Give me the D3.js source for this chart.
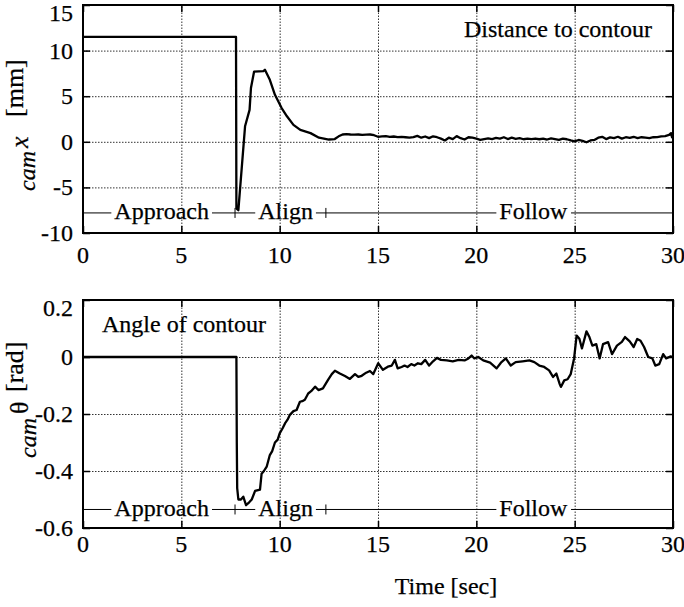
<!doctype html>
<html>
<head>
  <meta charset='utf-8'>
  <style>
    body { margin: 0; background: #fff; }
    text { font-family: 'Liberation Serif', 'Times New Roman', serif; fill: #000; stroke: #000; stroke-width: 0.25px; }
    .grid line { stroke: #333; stroke-width: 1; stroke-dasharray: 1.5,1.5; }
    .grid path, .ticks path { display: none; }
    .ticks line { stroke: #000; stroke-width: 1.5; }
    .ticklabel { font-size: 24px; }
    .curve { fill: none; stroke: #000; stroke-width: 2.3; stroke-linejoin: round; }
  </style>
</head>
<body>
  <svg width='684' height='607'></svg>
  <script src='https://d3js.org/d3.v7.min.js'></script>
  <script>
    // ---- data ----
    var xTicks = [0, 5, 10, 15, 20, 25, 30];
    var yTicksX = [-10, -5, 0, 5, 10, 15];
    var yTicksTheta = [-0.6, -0.4, -0.2, 0, 0.2];

    var phaseNames = ['Approach', 'Align', 'Follow'];
    var phaseMarks = [7.73, 12.35];
    var phaseLabelAt = [4.0, 10.3, 22.9];

    var timeX = [0, 7.78, 7.8, 7.9, 8.24, 8.47, 8.54, 8.7, 9.17, 9.25, 9.5, 9.76,
      10.1, 10.37, 10.7, 11.05, 11.57, 12.0, 12.5, 12.8, 13.0, 13.2, 13.4, 13.6,
      13.8, 14.0, 14.2, 14.4, 14.6, 14.8, 15.0, 15.2, 15.4, 15.6, 15.8, 16.0,
      16.2, 16.4, 16.6, 16.8, 17.0, 17.2, 17.4, 17.6, 17.8, 18.0, 18.2, 18.4,
      18.6, 18.8, 19.0, 19.2, 19.4, 19.6, 19.8, 20.0, 20.2, 20.4, 20.6, 20.8,
      21.0, 21.2, 21.4, 21.6, 21.8, 22.0, 22.2, 22.4, 22.6, 22.8, 23.0, 23.2,
      23.4, 23.6, 23.8, 24.0, 24.2, 24.4, 24.6, 24.8, 25.0, 25.2, 25.4, 25.6,
      25.8, 26.0, 26.2, 26.4, 26.6, 26.8, 27.0, 27.2, 27.4, 27.6, 27.8, 28.0,
      28.2, 28.4, 28.6, 28.8, 29.0, 29.2, 29.4, 29.6, 29.8, 29.9, 29.95, 30.0];
    var camX = [11.5, 11.5, -7.3, -7.5, 1.7, 3.5, 5.9, 7.7, 7.75, 7.9, 6.8, 5.15,
      3.7, 2.8, 1.86, 1.3, 0.95, 0.45, 0.25, 0.3, 0.6, 0.8, 0.85, 0.8,
      0.78, 0.8, 0.75, 0.78, 0.8, 0.72, 0.55, 0.6, 0.62, 0.55, 0.58, 0.52,
      0.55, 0.5, 0.45, 0.52, 0.65, 0.45, 0.58, 0.4, 0.6, 0.5, 0.35, 0.15,
      0.45, 0.3, 0.62, 0.4, 0.25, 0.5, 0.45, 0.35, 0.22, 0.3, 0.38, 0.3,
      0.42, 0.35, 0.5, 0.3, 0.45, 0.32, 0.4, 0.28, 0.35, 0.3, 0.36, 0.28,
      0.35, 0.25, 0.38, 0.3, 0.22, 0.35, 0.28, 0.15, 0.05, 0.2, 0.1, -0.05,
      0.15, 0.2, 0.45, 0.55, 0.3, 0.48, 0.4, 0.55, 0.35, 0.5, 0.42, 0.55,
      0.4, 0.5, 0.45, 0.4, 0.5, 0.52, 0.6, 0.62, 0.75, 0.95, 0.5, 1.0];

    var timeTheta = [0, 7.8, 7.82, 7.84, 7.9, 8.03, 8.15, 8.29, 8.45, 8.58, 8.75,
      9.0, 9.08, 9.2, 9.34, 9.5, 9.62, 9.76, 9.9, 10.0, 10.15, 10.27, 10.4,
      10.52, 10.7, 10.86, 11.03, 11.15, 11.28, 11.45, 11.6, 11.8, 11.97, 12.2,
      12.46, 12.65, 12.81, 13.06, 13.32, 13.57, 13.83, 14.0, 14.17, 14.4,
      14.59, 14.76, 15.01, 15.25, 15.5, 15.7, 15.86, 16.0, 16.2, 16.35, 16.5,
      16.69, 16.85, 17.03, 17.2, 17.4, 17.6, 17.8, 18.0, 18.2, 18.5, 18.8,
      19.1, 19.4, 19.6, 19.76, 19.9, 20.1, 20.35, 20.7, 21.03, 21.25, 21.5,
      21.75, 22.0, 22.35, 22.7, 22.95, 23.2, 23.45, 23.7, 23.9, 24.07, 24.24,
      24.3, 24.47, 24.64, 24.8, 24.97, 25.1, 25.24, 25.37, 25.6, 25.75, 25.9,
      26.1, 26.27, 26.44, 26.7, 26.9, 27.15, 27.4, 27.56, 27.8, 28.0, 28.18,
      28.35, 28.53, 28.74, 28.95, 29.1, 29.3, 29.5, 29.65, 29.86, 30.0];
    var camTheta = [0, 0, -0.3, -0.46, -0.5, -0.5, -0.49, -0.52, -0.51, -0.5,
      -0.47, -0.465, -0.41, -0.4, -0.385, -0.344, -0.33, -0.3, -0.29, -0.268,
      -0.25, -0.233, -0.22, -0.203, -0.19, -0.186, -0.157, -0.155, -0.15,
      -0.128, -0.12, -0.104, -0.116, -0.11, -0.08, -0.06, -0.048, -0.058,
      -0.067, -0.077, -0.06, -0.07, -0.066, -0.055, -0.049, -0.06, -0.022,
      -0.045, -0.034, -0.03, -0.01, -0.04, -0.035, -0.03, -0.035, -0.025,
      -0.03, -0.022, -0.025, -0.01, -0.03, -0.015, -0.003, -0.01, -0.012,
      -0.015, -0.01, -0.012, -0.005, 0.005, -0.005, 0, -0.012, -0.02, -0.04,
      -0.02, -0.005, -0.03, -0.018, -0.015, -0.012, -0.018, -0.03, -0.035,
      -0.047, -0.07, -0.058, -0.095, -0.105, -0.082, -0.078, -0.06, -0.005,
      0.075, 0.064, 0.03, 0.09, 0.07, 0.04, 0.045, -0.005, 0.045, 0.052, 0.01,
      0.04, 0.053, 0.07, 0.055, 0.035, 0.063, 0.057, 0.035, 0, -0.005, -0.03,
      -0.025, 0.01, -0.005, 0.002, 0];

    // ---- layout ----
    var svg = d3.select('svg');
    var left = 83, right = 673;

    var x = d3.scaleLinear().domain([0, 30]).range([left, right]);

    function fmt(d) {
      return d === 0 ? '0' : (Math.abs(d) < 1 ? d.toFixed(1) : String(d));
    }

    function panel(opt) {
      var y = d3.scaleLinear().domain(opt.domain).range([opt.bottom, opt.top]);
      var g = svg.append('g');
      var w = right - left, h = opt.bottom - opt.top;

      // grid
      g.append('g').attr('class', 'grid')
        .attr('transform', 'translate(0,' + opt.bottom + ')')
        .call(d3.axisBottom(x).tickValues(xTicks.slice(1, -1)).tickSize(-h).tickFormat(''));
      g.append('g').attr('class', 'grid')
        .attr('transform', 'translate(' + left + ',0)')
        .call(d3.axisLeft(y).tickValues(opt.yTicks.slice(1, -1)).tickSize(-w).tickFormat(''));

      // curve
      var pts = opt.t.map(function(t, i) { return [t, opt.v[i]]; });
      g.append('path').attr('class', 'curve')
        .attr('d', d3.line().x(function(d) { return x(d[0]); })
                            .y(function(d) { return y(d[1]); })(pts));

      // phase bar
      var py = y(opt.phaseLevel);
      g.append('line').attr('x1', x(0)).attr('x2', x(30))
        .attr('y1', py).attr('y2', py)
        .attr('stroke', '#000').attr('stroke-width', 1);
      g.selectAll('.pmark').data(phaseMarks).enter().append('line')
        .attr('x1', function(d) { return x(d); }).attr('x2', function(d) { return x(d); })
        .attr('y1', py - 5).attr('y2', py + 5)
        .attr('stroke', '#000').attr('stroke-width', 1);
      phaseNames.forEach(function(name, i) {
        var lg = g.append('g');
        var bg = lg.append('rect').attr('fill', '#fff');
        var tx = lg.append('text').attr('class', 'ticklabel')
          .attr('x', x(phaseLabelAt[i])).attr('y', py + 6.5)
          .attr('text-anchor', 'middle').text(name);
        var bb = tx.node().getBBox();
        bg.attr('x', bb.x - 3).attr('width', bb.width + 6)
          .attr('y', py - 2).attr('height', 4);
      });

      // border
      g.append('rect').attr('x', left).attr('y', opt.top)
        .attr('width', w).attr('height', h)
        .attr('fill', 'none').attr('stroke', '#000').attr('stroke-width', 2);

      // inward ticks on all four sides
      g.append('g').attr('class', 'ticks').attr('transform', 'translate(0,' + opt.bottom + ')')
        .call(d3.axisBottom(x).tickValues(xTicks).tickSize(-7).tickFormat(''));
      g.append('g').attr('class', 'ticks').attr('transform', 'translate(0,' + opt.top + ')')
        .call(d3.axisTop(x).tickValues(xTicks).tickSize(-7).tickFormat(''));
      g.append('g').attr('class', 'ticks').attr('transform', 'translate(' + left + ',0)')
        .call(d3.axisLeft(y).tickValues(opt.yTicks).tickSize(-7).tickFormat(''));
      g.append('g').attr('class', 'ticks').attr('transform', 'translate(' + right + ',0)')
        .call(d3.axisRight(y).tickValues(opt.yTicks).tickSize(-7).tickFormat(''));

      // tick labels (the topmost one is nudged down to stay inside the page)
      g.selectAll('.ylab').data(opt.yTicks).enter().append('text')
        .attr('class', 'ticklabel').attr('text-anchor', 'end')
        .attr('x', 73)
        .attr('y', function(d) { return Math.max(y(d), opt.top + 8); })
        .attr('dy', '0.33em')
        .text(fmt);
      g.selectAll('.xlab').data(xTicks).enter().append('text')
        .attr('class', 'ticklabel').attr('text-anchor', 'middle')
        .attr('x', function(d) { return x(d); })
        .attr('y', opt.xLabelY)
        .text(fmt);

      // title inside plot
      g.append('text').attr('class', 'ticklabel')
        .attr('x', opt.title[1]).attr('y', opt.title[2]).text(opt.title[0]);

      // rotated y label pieces
      opt.ylabel.forEach(function(p) {
        g.append('text')
          .attr('transform', 'translate(' + p.x + ',' + p.y + ') rotate(-90)')
          .style('font-size', p.size + 'px')
          .style('font-style', p.italic ? 'italic' : 'normal')
          .text(p.s);
      });
    }

    panel({
      top: 5, bottom: 233, domain: [-10, 15], yTicks: yTicksX,
      t: timeX, v: camX, phaseLevel: -7.8, xLabelY: 263,
      title: ['Distance to contour', 464, 37],
      ylabel: [
        { s: 'cam', x: 35, y: 191, size: 24, italic: true },
        { s: 'x', x: 28, y: 148, size: 26, italic: true },
        { s: '[mm]', x: 23, y: 117, size: 26, italic: false }
      ]
    });

    panel({
      top: 300, bottom: 528, domain: [-0.6, 0.2], yTicks: yTicksTheta,
      t: timeTheta, v: camTheta, phaseLevel: -0.535, xLabelY: 552,
      title: ['Angle of contour', 102, 332],
      ylabel: [
        { s: 'cam', x: 36, y: 458, size: 24, italic: true },
        { s: '\u03b8', x: 28, y: 414, size: 26, italic: false },
        { s: '[rad]', x: 23, y: 392, size: 26, italic: false }
      ]
    });

    svg.append('text').attr('class', 'ticklabel')
      .attr('x', 446).attr('y', 594).attr('text-anchor', 'middle')
      .text('Time [sec]');
  </script>
</body>
</html>
